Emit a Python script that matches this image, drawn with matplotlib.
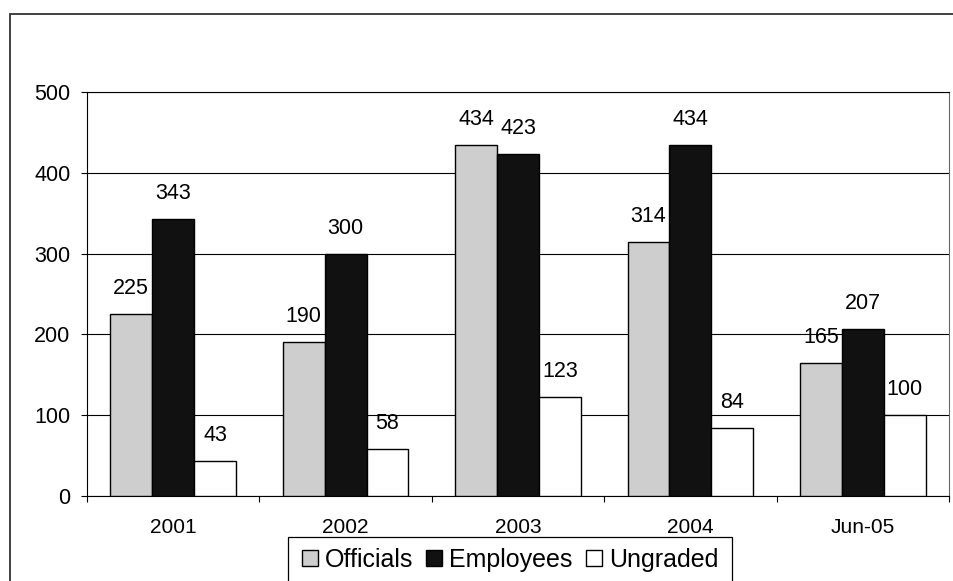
import matplotlib
matplotlib.use("Agg")
import matplotlib.pyplot as plt
import matplotlib.patches as mpatches
import numpy as np

# Staff counts by grade
categories = ["2001", "2002", "2003", "2004", "Jun-05"]
officials = [225, 190, 434, 314, 165]
employees = [343, 300, 423, 434, 207]
ungraded = [43, 58, 123, 84, 100]

series = [
    ("Officials", officials, "#cecece"),
    ("Employees", employees, "#111111"),
    ("Ungraded", ungraded, "#ffffff"),
]

plt.rcParams["font.family"] = ["Liberation Sans", "DejaVu Sans"]
FS = 15.5
LEG_FS = 18

W, H = 954, 581
fig = plt.figure(figsize=(W / 100, H / 100), dpi=100)

# Outer chart border (runs past the right and bottom edges)
fig.patches.append(mpatches.Rectangle(
    (10 / W, -0.05), 1.2, (1 - 14 / H) + 0.05, transform=fig.transFigure,
    fill=False, edgecolor="#333333", linewidth=1.3, zorder=0))

ax = fig.add_axes([87 / W, 1 - 496 / H, (949 - 87) / W, (496 - 92) / H])
ax.set_facecolor("white")

x = np.arange(len(categories))
bw = 0.243
offsets = [-bw, 0, bw]
handles = []
for (name, vals, col), off in zip(series, offsets):
    bars = ax.bar(x + off, vals, width=bw, color=col, edgecolor="black",
                  linewidth=1.0, zorder=3, label=name)
    handles.append(bars)
    for xi, v in zip(x + off, vals):
        ax.annotate(str(v), (xi, v), xytext=(0, 14.4), textcoords="offset points",
                    ha="center", va="baseline", fontsize=FS, zorder=4)

ax.set_xlim(-0.5, len(categories) - 0.5)
ax.set_ylim(0, 500)
ax.set_yticks(np.arange(0, 501, 100))
ax.yaxis.grid(True, color="black", linewidth=0.8, zorder=1)
ax.set_axisbelow(True)

# Tick marks at category boundaries, labels at category centres
ax.set_xticks(np.arange(-0.5, len(categories), 1.0))
ax.set_xticklabels([])
ax.set_xticks(x, minor=True)
ax.set_xticklabels(categories, minor=True, fontsize=15)
ax.tick_params(axis="x", which="major", direction="out", length=4.3, width=0.8)
ax.tick_params(axis="x", which="minor", length=0, pad=15.5)
ax.tick_params(axis="y", direction="out", length=4.3, width=0.8, pad=7.5,
               labelsize=FS)

for side in ["left", "bottom", "right", "top"]:
    ax.spines[side].set_color("black")
    ax.spines[side].set_linewidth(0.8)
ax.spines["right"].set_color("#666666")

# Legend box (also runs past the bottom edge)
fig.patches.append(mpatches.Rectangle(
    (288 / W, -0.05), (732 - 288) / W, (1 - 537 / H) + 0.05,
    transform=fig.transFigure, facecolor="white", edgecolor="black",
    linewidth=0.9, zorder=5))

leg = fig.legend(handles=handles, labels=[s[0] for s in series], ncol=3,
                 loc="center", bbox_to_anchor=(510 / W, 1 - 560 / H),
                 frameon=False, fontsize=LEG_FS, handlelength=0.64,
                 handleheight=0.64, handletextpad=0.28, columnspacing=0.52,
                 borderaxespad=0, borderpad=0)
leg.set_zorder(6)

fig.savefig("out.png", dpi=100, facecolor="white")
